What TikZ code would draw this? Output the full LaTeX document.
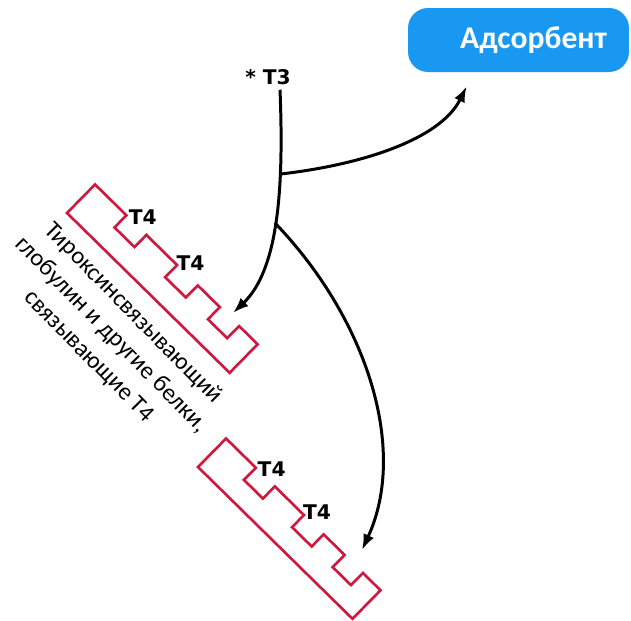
\documentclass[tikz,border=0pt]{standalone}
\usepackage{fontspec}
\setmainfont{Carlito}
\newfontfamily\tagfont{DejaVu Sans}
\usepackage{tikz}
\usetikzlibrary{arrows.meta, positioning, calc}

\definecolor{sorbentblue}{RGB}{24,152,240}
\definecolor{carrierred}{RGB}{206,24,64}

\tikzset{
    carrier/.pic={
        \draw[carrierline] (0,0) -- (0,-40) -- (44,-40) -- (44,-23) -- (72,-23) -- (72,-40)
            -- (115,-40) -- (115,-23) -- (144,-23) -- (144,-40) -- (175,-40) -- (175,-23)
            -- (202,-23) -- (202,-40) -- (228,-40) -- (228,0) -- cycle;
        \node[tag] (-t4a) at (57,-50) {T4};
        \node[tag] (-t4b) at (123,-51) {T4};
    }
}

\begin{document}
\begin{tikzpicture}[x=0.02cm, y=-0.02cm, >={Latex[length=9pt,width=6.5pt]},
    tag/.style={font=\tagfont\bfseries\fontsize{11.5}{13}\selectfont, inner sep=1pt},
    sorbent/.style={fill=sorbentblue, rounded corners=0.4cm, minimum width=4.42cm, minimum height=1.28cm,
        text width=3.54cm, inner xsep=0.44cm, align=right, text=white,
        font=\bfseries\fontsize{18}{20}\selectfont},
    flow/.style={->, line width=1.7pt},
    carrierline/.style={draw=carrierred, line width=1.5pt},
    caption/.style={align=center, font=\fontsize{13.9}{17.6}\selectfont, inner sep=0pt}
]
    \useasboundingbox (0,0) rectangle (631,620);

    \node[sorbent] (adsorb) at (518.5,40) {Адсорбент};
    \node[tag] (t3) at (268,77) {* T3};

    % carrier proteins
    \pic[rotate=-44.5] (prot1) at (67,213) {carrier};
    \pic[rotate=-44.5, xscale=0.95] (prot2) at (198,467) {carrier};
    \node[caption, rotate=-45.5] (tbg) at (111,335)
        {Тироксинсвязывающий\\глобулин и другие белки,\\связывающие Т4};

    \coordinate (adsorb-in) at ($(adsorb.south west)+(59,14)$);
    \coordinate (site1) at (233,313);
    \coordinate (site2) at (362,550);

    % T3 path and its branches
    \draw[flow] ($(t3.south)+(12,3)$) .. controls (284,190) and (278,270) .. (site1)
        coordinate[pos=0.3] (fork1) coordinate[pos=0.5] (fork2);
    \draw[flow] (fork1) .. controls (360,165) and (440,140) .. (adsorb-in);
    \draw[flow] (fork2) .. controls (368,320) and (408,450) .. (site2);
\end{tikzpicture}
\end{document}
